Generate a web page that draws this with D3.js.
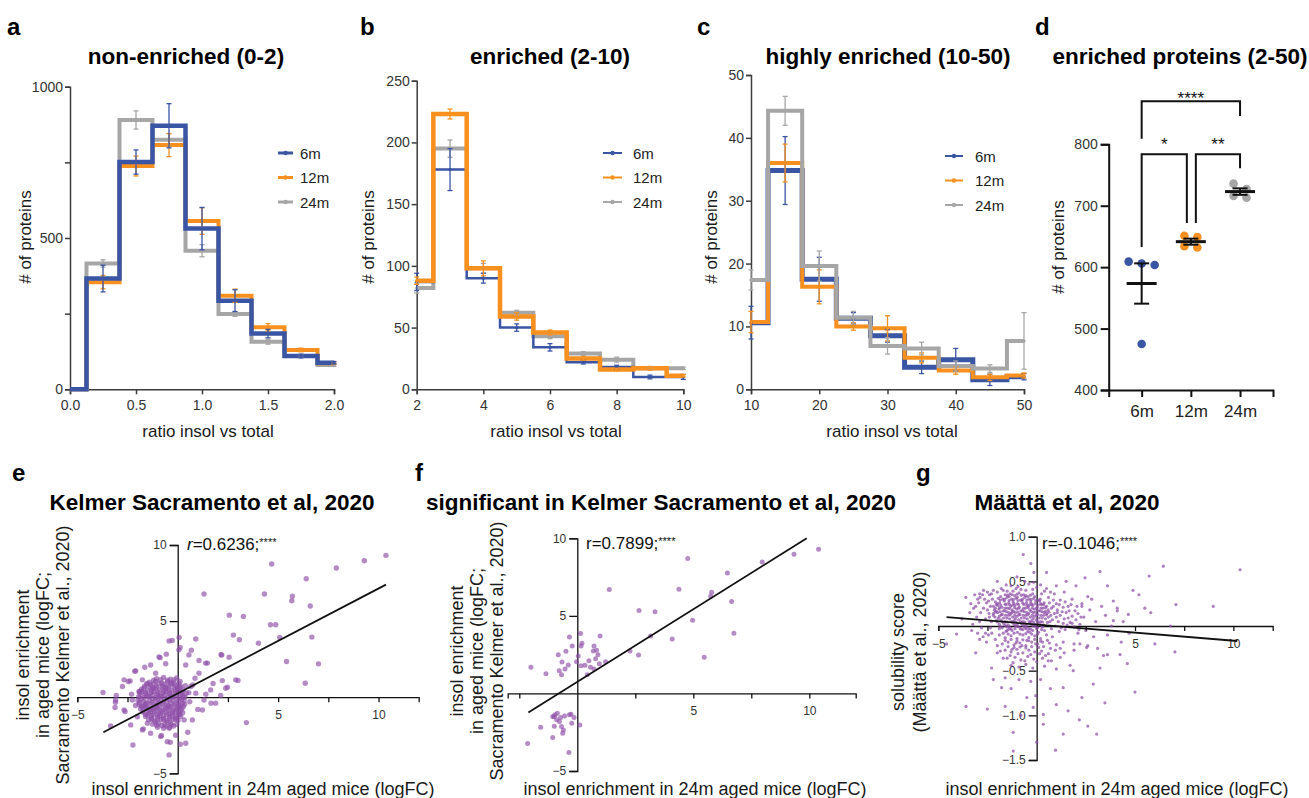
<!DOCTYPE html>
<html>
<head>
<meta charset="utf-8">
<title>Protein insolubility with age</title>
<script src="https://cdn.jsdelivr.net/npm/d3@7/dist/d3.min.js"></script>
<style>
  html, body { margin: 0; padding: 0; background: #fff; }
  svg { display: block; }
</style>
</head>
<body>
<svg id="figure" width="1309" height="798"></svg>
<script>
const FONT = "Arial, 'Liberation Sans', Helvetica, sans-serif";

// ---------- age groups shared by panels a-d ----------
const ageGroups = ["6m", "12m", "24m"];
const ageColors = ["#3a55a4", "#f7901e", "#a6a6a6"];

// ---------- a: non-enriched (ratio 0-2) ----------
const binsA = [0, 0.25, 0.5, 0.75, 1.0, 1.25, 1.5, 1.75, 2.0];
const countsA6  = [0, 366, 751, 871, 531, 293, 184, 110, 88];
const countsA12 = [0, 354, 738, 807, 556, 309, 205, 130, 86];
const countsA24 = [0, 416, 890, 825, 458, 249, 157, 110, 80];
const semA6  = [0, 44, 40, 73, 70, 36, 14, 6, 4];
const semA12 = [0, 22, 33, 38, 44, 22, 12, 6, 4];
const semA24 = [0, 12, 30, 20, 20, 8, 8, 5, 4];

// ---------- b: enriched (ratio 2-10) ----------
const binsB = [2, 3, 4, 5, 6, 7, 8, 9, 10];
const countsB6  = [87, 178, 90, 50, 34, 22, 18, 10, 10];
const countsB12 = [88, 223, 98, 59, 46, 25, 16, 17, 11];
const countsB24 = [82, 195, 98, 62, 43, 29, 24, 17, 17];
const semB6  = [7, 17, 4, 3, 3, 1.5, 1.5, 1.5, 2];
const semB12 = [3, 4, 6, 3, 2, 1.5, 1, 1.5, 1];
const semB24 = [4, 7, 4, 2, 2, 1.5, 2, 1, 1];

// ---------- c: highly enriched (ratio 10-50) ----------
const binsC = [10, 15, 20, 25, 30, 35, 40, 45, 50];
const countsC6  = [10.6, 34.8, 17.5, 11.3, 8.5, 3.5, 4.7, 1.5, 2.0];
const countsC12 = [10.7, 36.0, 16.3, 10.0, 9.7, 5.0, 3.0, 1.9, 2.2];
const countsC24 = [17.4, 44.3, 19.6, 11.4, 6.9, 6.5, 3.7, 3.3, 7.7];
const semC6  = [2.6, 5.4, 3.5, 0.9, 1.0, 1.0, 1.8, 0.9, 0.5];
const semC12 = [1.7, 3.0, 2.7, 0.6, 2.0, 0.8, 0.6, 0.5, 0.4];
const semC24 = [1.6, 2.3, 2.4, 1.0, 1.3, 1.0, 0.8, 0.6, 4.5];

// ---------- d: enriched proteins (2-50) per animal ----------
const enriched6  = [609, 603.5, 606, 475];
const enriched12 = [649, 634, 651, 632];
const enriched24 = [736, 727, 716, 713];
const sigBrackets = [
  { from: "6m",  to: "24m", top: 870, leftEnd: 809, rightEnd: 846, label: "****" },
  { from: "6m",  to: "12m", top: 784, leftEnd: 633, rightEnd: 672, label: "*" },
  { from: "12m", to: "24m", top: 784, leftEnd: 672, rightEnd: 761, label: "**" }
];

// ---------- e: all proteins vs Kelmer Sacramento et al. 2020 (logFC, logFC) ----------
const kelmerSpread = [
  [10.37,9.32],[9.29,8.97],[7.9,8.49],[4.68,8.75],[6.4,7.78],[1.31,6.78],[4.32,6.78],[5.71,6.64],[5.68,6.34],
  [6.6,5.99],[2.57,5.39],[3.27,5.31],[4.62,4.76],[4.88,4.76],[2.77,4.08],[3.07,3.77],[5.08,3.93],[6.68,3.95],
  [4.02,3.55],[2.16,2.79],[2.56,2.63],[5.42,2.35],[7.01,2.19],[3.0,1.1],[6.35,0.92],[2.48,0.66],[1.76,0.9],
  [2.14,0.11],[3.42,-1.67],[2.89,1.14],[2.39,0.59],[2.22,1.09],[2.19,2.78],[1.89,-0.39],[1.64,0.48],
  [0.9,3.82],[0.07,3.93],[-0.27,3.73],[-0.43,3.7],[0.12,3.27],[0.68,3.09],[0.06,3.11],[-0.57,2.83],[0.56,2.78],
  [-0.88,2.6],[1.48,2.24],[1.06,2.41],[1.39,2.24],[0.4,2.12],[-1.35,2.12],[-1.64,1.97],[-2.09,1.73],[-2.14,1.71],
  [-0.93,2.65],[-0.6,2.2],[1.06,1.58],[0.86,1.25],[-1.1,1.58],[-1.76,1.14],[-2.67,1.14],[-2.37,1.07],[-2.46,1.03],
  [-2.75,0.7],[-1.93,0.37],[0.65,0.7],[0.9,0.26],[1.31,-0.18],[1.23,-0.84],[0.73,-1.49],[1.0,-0.8],[1.66,-0.39],
  [1.4,0.2],[0.75,0.8],[-3.72,0.31],[-3.06,0.11],[-3.09,-0.18],[-3.1,-0.33],[-3.12,-0.68],[-2.67,-0.84],
  [-2.26,-0.18],[-2.62,-0.94],[-2.01,-1.28],[-1.51,-1.71],[-2.34,-1.82],[-3.34,-1.89],[-1.76,-2.15],[-1.35,-2.37],
  [-0.43,-2.04],[-0.52,-2.92],[0.4,-3.03],[-0.85,-2.59],[-2.23,-3.14],[-1.71,-2.08],[-0.43,-3.79],[-0.37,-2.96],
  [0.13,-3.09],[-0.81,-2.52],[0.32,-1.49],[0.5,-2.3],[-0.1,-2.5],[-2.1,-0.55],[-2.3,0.2],[0.6,-0.3],[0.55,0.3]
];
const kelmerCore = [
  [-1.05,1.22],[-0.7,1.3],[-0.35,1.18],[-0.05,1.27],
  [-1.4,0.98],[-1.1,1.05],[-0.8,0.95],[-0.5,1.02],[-0.2,0.97],[0.12,1.04],
  [-1.65,0.72],[-1.35,0.8],[-1.05,0.7],[-0.75,0.78],[-0.45,0.71],[-0.15,0.79],[0.15,0.73],[0.38,0.76],
  [-1.8,0.52],[-1.5,0.46],[-1.2,0.55],[-0.9,0.48],[-0.6,0.53],[-0.3,0.45],[0.0,0.54],[0.28,0.47],
  [-1.9,0.27],[-1.62,0.22],[-1.32,0.3],[-1.02,0.2],[-0.72,0.28],[-0.42,0.23],[-0.12,0.29],[0.18,0.21],[0.42,0.26],
  [-1.95,0.02],[-1.68,-0.04],[-1.4,0.05],[-1.1,-0.03],[-0.8,0.04],[-0.5,-0.02],[-0.2,0.03],[0.1,-0.05],[0.36,0.01],
  [-1.98,-0.22],[-1.7,-0.29],[-1.42,-0.2],[-1.12,-0.27],[-0.84,-0.23],[-0.55,-0.3],[-0.25,-0.21],[0.05,-0.28],[0.32,-0.24],
  [-1.92,-0.48],[-1.64,-0.54],[-1.35,-0.46],[-1.05,-0.53],[-0.76,-0.47],[-0.46,-0.55],[-0.16,-0.49],[0.12,-0.52],[0.35,-0.47],
  [-1.85,-0.77],[-1.56,-0.72],[-1.27,-0.8],[-0.98,-0.73],[-0.68,-0.79],[-0.38,-0.71],[-0.08,-0.78],[0.2,-0.74],
  [-1.75,-0.98],[-1.45,-1.04],[-1.16,-0.97],[-0.87,-1.05],[-0.57,-0.99],[-0.27,-1.03],[0.03,-0.96],[0.25,-1.02],
  [-1.6,-1.27],[-1.3,-1.22],[-1.0,-1.29],[-0.7,-1.23],[-0.4,-1.28],[-0.1,-1.21],[0.15,-1.26],
  [-1.45,-1.48],[-1.15,-1.54],[-0.85,-1.47],[-0.55,-1.53],[-0.25,-1.46],[0.02,-1.52],
  [-1.25,-1.77],[-0.95,-1.72],[-0.65,-1.79],[-0.35,-1.74],[-0.05,-1.78],
  [-1.0,-1.98],[-0.7,-2.04],[-0.4,-1.97],
  [-1.55,0.87],[-1.25,0.62],[-0.95,0.88],[-0.62,0.64],[-0.32,0.88],[-0.02,0.61],
  [-1.78,0.37],[-1.48,0.12],[-1.18,0.38],[-0.88,0.13],[-0.58,0.36],[-0.28,0.1],[0.02,0.39],[0.25,0.1],
  [-1.82,-0.12],[-1.55,-0.38],[-1.25,-0.11],[-0.95,-0.39],[-0.65,-0.1],[-0.35,-0.37],[-0.05,-0.12],[0.22,-0.39],
  [-1.75,-0.63],[-1.42,-0.88],[-1.12,-0.62],[-0.82,-0.9],[-0.52,-0.61],[-0.22,-0.87],[0.08,-0.63],
  [-1.6,-1.13],[-1.3,-1.38],[-1.0,-1.12],[-0.7,-1.4],[-0.4,-1.1],[-0.1,-1.37],[0.1,-1.12],
  [-1.1,-1.66],[-0.8,-1.86],[-0.5,-1.64],[-0.2,-1.9],
  [-1.2,1.12],[-0.85,1.15],[-0.5,1.12],[-0.18,1.14],
  [-1.5,0.9],[-1.2,0.86],[-0.65,0.86],[-0.35,0.93],[0.05,0.88],
  [-1.68,0.6],[-1.38,0.66],[-1.08,0.6],[-0.78,0.66],[-0.48,0.6],[-0.18,0.66],[0.12,0.6],
  [-1.88,0.4],[-1.6,0.32],[-1.3,0.42],[-0.98,0.33],[-0.7,0.42],[-0.4,0.34],[-0.1,0.42],[0.2,0.33],
  [-1.85,0.12],[-1.55,0.06],[-1.25,0.15],[-0.95,0.08],[-0.65,0.15],[-0.35,0.07],[-0.05,0.15],[0.25,-0.02],
  [-1.9,-0.35],[-1.6,-0.42],[-1.28,-0.35],[-0.98,-0.12],[-0.7,-0.38],[-0.4,-0.15],[-0.1,-0.4],[0.2,-0.15],
  [-1.8,-0.62],[-1.5,-0.66],[-1.2,-0.7],[-0.9,-0.62],[-0.6,-0.68],[-0.3,-0.6],[0.0,-0.66],[0.28,-0.62],
  [-1.7,-0.88],[-1.35,-0.94],[-1.05,-0.86],[-0.75,-0.93],[-0.45,-0.87],[-0.15,-0.92],[0.15,-0.88],
  [-1.5,-1.18],[-1.2,-1.15],[-0.88,-1.2],[-0.55,-1.16],[-0.25,-1.18],[0.05,-1.15],
  [-1.3,-1.45],[-1.0,-1.42],[-0.7,-1.5],[-0.4,-1.43],[-0.1,-1.48],
  [-1.05,-1.85],[-0.6,-1.9],[-0.3,-1.8]
];
const kelmerFit = { slope: 0.689, intercept: 0.25, from: -3.7, to: 10.37 };

// ---------- f: proteins significant in Kelmer Sacramento et al. 2020 ----------
const kelmerSignificant = [
  [10.4,9.29],[9.34,8.97],[7.97,8.47],[4.76,8.69],[6.47,7.76],[1.38,6.7],[4.38,6.72],[5.79,6.53],[5.75,6.27],
  [6.65,5.93],[2.66,5.34],[3.35,5.26],[4.97,4.72],[6.75,3.88],[4.09,3.51],[3.16,3.71],[5.47,2.33],[2.27,2.74],
  [2.64,2.48],[1.22,2.05],[0.98,3.71],[0.14,3.86],[0.2,3.23],[0.16,3.05],[-0.34,3.64],[-0.22,3.06],[-0.82,2.5],
  [-0.49,2.72],[0.72,3.06],[0.83,2.78],[0.69,2.74],[0.89,2.5],[0.04,2.41],[0.5,2.11],[0.79,2.24],[-0.03,2.05],
  [0.16,1.79],[0.33,1.81],[0.57,1.68],[0.95,1.92],[0.43,1.21],[0.72,1.57],[-0.39,1.83],[-0.53,1.57],[-0.66,2.03],
  [-0.78,1.47],[-0.68,1.21],[-1.35,1.27],[-2.0,1.68],
  [-0.96,-1.38],[-0.86,-1.27],[-1.06,-1.49],[-0.72,-1.55],[-0.34,-1.38],[-0.27,-1.34],[-0.14,-1.55],[0.11,-2.03],
  [-0.24,-1.92],[-0.89,-1.7],[-0.68,-2.13],[-0.6,-2.35],[-0.63,-2.56],[-0.99,-2.11],[-1.58,-2.18],[-1.06,-2.84],
  [-2.14,-3.23],[-0.36,-3.81],[-0.77,-1.81],[-1.0,-1.5],[-0.55,-1.45]
];
const significantFit = { slope: 0.936, intercept: 0.745, from: -2.11, to: 9.89 };

// ---------- g: insol enrichment vs solubility score (Määttä et al. 2020) ----------
const maattaCore = [
  [-1.6,0.35],[-1.35,0.36],[-1.12,0.34],[-0.9,0.37],[-0.66,0.35],[-0.45,0.33],[-0.2,0.36],
  [-1.95,0.31],[-1.72,0.3],[-1.5,0.32],[-1.28,0.3],[-1.05,0.31],[-0.82,0.29],[-0.6,0.32],[-0.38,0.3],[-0.15,0.31],[0.08,0.29],
  [-2.1,0.27],[-1.88,0.26],[-1.65,0.28],[-1.42,0.26],[-1.2,0.27],[-0.98,0.25],[-0.75,0.28],[-0.52,0.26],[-0.3,0.27],[-0.08,0.25],[0.15,0.28],[0.38,0.26],
  [-2.2,0.22],[-1.98,0.23],[-1.76,0.21],[-1.55,0.24],[-1.32,0.22],[-1.1,0.23],[-0.88,0.21],[-0.65,0.24],[-0.42,0.22],[-0.2,0.23],[0.02,0.21],[0.25,0.24],[0.5,0.22],
  [-2.15,0.18],[-1.92,0.19],[-1.7,0.17],[-1.48,0.2],[-1.25,0.18],[-1.02,0.19],[-0.8,0.17],[-0.58,0.2],[-0.35,0.18],[-0.12,0.19],[0.1,0.17],[0.32,0.2],[0.58,0.18],
  [-2.2,0.14],[-1.98,0.15],[-1.75,0.13],[-1.52,0.16],[-1.3,0.14],[-1.08,0.15],[-0.85,0.13],[-0.62,0.16],[-0.4,0.14],[-0.18,0.15],[0.05,0.13],[0.28,0.16],[0.52,0.14],
  [-2.12,0.1],[-1.9,0.11],[-1.68,0.09],[-1.45,0.12],[-1.22,0.1],[-1.0,0.11],[-0.78,0.09],[-0.55,0.12],[-0.32,0.1],[-0.1,0.11],[0.12,0.09],[0.36,0.12],[0.6,0.1],
  [-2.05,0.06],[-1.82,0.07],[-1.6,0.05],[-1.38,0.08],[-1.15,0.06],[-0.92,0.07],[-0.7,0.05],[-0.48,0.08],[-0.25,0.06],[-0.02,0.07],[0.2,0.05],[0.45,0.08],
  [-1.9,0.02],[-1.68,0.03],[-1.45,0.01],[-1.22,0.04],[-1.0,0.02],[-0.78,0.03],[-0.55,0.01],[-0.32,0.04],[-0.1,0.02],[0.12,0.03],[0.35,0.01],
  [-1.75,-0.02],[-1.52,-0.01],[-1.3,-0.03],[-1.08,0.0],[-0.85,-0.02],[-0.62,-0.01],[-0.4,-0.03],[-0.18,0.0],[0.05,-0.02],
  [-1.55,-0.06],[-1.25,-0.05],[-0.98,-0.07],[-0.7,-0.04],[-0.45,-0.06],[-0.2,-0.05],[0.1,-0.07],
  [-1.83,0.33],[-1.4,0.33],[-0.98,0.32],[-0.55,0.34],[-0.1,0.33],
  [-2.0,0.25],[-1.6,0.245],[-1.15,0.25],[-0.7,0.255],[-0.25,0.245],[0.2,0.25],
  [-2.05,0.165],[-1.62,0.17],[-1.18,0.165],[-0.72,0.17],[-0.28,0.165],[0.18,0.17],[0.45,0.165],
  [-1.95,0.085],[-1.52,0.09],[-1.08,0.085],[-0.62,0.09],[-0.18,0.085],[0.28,0.09],
  [-1.6,0.01],[-1.15,0.015],[-0.7,0.01],[-0.25,0.015],[0.22,0.01],
  [-1.48,0.345],[-1.25,0.35],[-1.0,0.355],[-0.78,0.345],[-0.32,0.345],
  [-1.85,0.29],[-1.62,0.3],[-1.4,0.285],[-1.18,0.295],[-0.95,0.285],[-0.72,0.3],[-0.5,0.29],[-0.28,0.295],[-0.05,0.285],[0.18,0.3],
  [-2.05,0.24],[-1.82,0.235],[-1.38,0.24],[-1.22,0.235],[-0.92,0.24],[-0.5,0.235],[-0.35,0.24],[0.08,0.235],[0.35,0.24],
  [-2.1,0.2],[-1.88,0.205],[-1.6,0.2],[-1.38,0.195],[-1.12,0.205],[-0.92,0.2],[-0.68,0.195],[-0.45,0.205],[-0.22,0.2],[0.0,0.195],[0.22,0.2],[0.45,0.205],
  [-2.1,0.155],[-1.85,0.16],[-1.42,0.15],[-1.25,0.155],[-0.95,0.155],[-0.5,0.15],[-0.08,0.155],[0.38,0.15],[0.62,0.155],
  [-2.2,0.12],[-1.8,0.125],[-1.58,0.12],[-1.35,0.125],[-1.12,0.12],[-0.9,0.125],[-0.68,0.12],[-0.45,0.125],[-0.22,0.12],[0.0,0.125],[0.22,0.12],[0.5,0.125],
  [-2.0,0.045],[-1.75,0.05],[-1.5,0.045],[-1.28,0.05],[-1.05,0.045],[-0.82,0.05],[-0.6,0.045],[-0.38,0.05],[-0.15,0.045],[0.05,0.05],[0.3,0.045],[0.55,0.04],
  [-1.85,-0.005],[-1.4,-0.01],[-0.95,-0.005],[-0.5,-0.01],[-0.05,-0.005],[0.3,-0.01],
  [-1.4,-0.035],[-1.1,-0.03],[-0.8,-0.035],[-0.55,-0.03],[-0.3,-0.035],[0.0,-0.03],[0.25,-0.04],
  [-1.7,-0.08],[-1.45,-0.09],[-1.15,-0.08],[-0.85,-0.09],[-0.55,-0.085],[-0.25,-0.09],[0.05,-0.09],
  [-1.6,-0.16],[-1.3,-0.15],[-1.0,-0.17],[-0.7,-0.155],[-0.4,-0.165],[-0.1,-0.15],[0.2,-0.17],
  [-1.45,-0.23],[-1.15,-0.24],[-0.85,-0.235],[-0.55,-0.245],[-0.25,-0.23],[0.1,-0.24]
];
const maattaSpread = [
  [0.75,0.2],[1.05,0.18],[1.35,0.21],[1.65,0.17],[0.9,0.14],[1.2,0.12],[1.5,0.15],[1.8,0.11],[2.1,0.14],[0.8,0.07],
  [1.1,0.05],[1.4,0.08],[1.7,0.04],[2.0,0.07],[0.95,0.0],[1.25,-0.02],[1.55,0.01],[1.9,-0.01],[0.72,0.12],[1.6,0.22],
  [2.2,0.02],[1.0,0.25],
  [0.65,0.26],[0.85,0.29],[1.15,0.24],[1.45,0.27],[1.75,0.24],[2.05,0.22],[0.68,0.05],[0.85,0.22],[1.0,0.1],[1.3,0.16],
  [1.6,0.09],[1.95,0.17],[2.25,0.1],[0.75,-0.03],[1.15,-0.06],[1.45,-0.04],[1.8,0.03],[2.15,-0.04],[1.35,0.03],[1.05,0.15],
  [-1.9,-0.1],[-1.6,-0.13],[-1.3,-0.11],[-1.0,-0.14],[-0.7,-0.1],[-0.4,-0.13],[-0.1,-0.11],[0.2,-0.14],[0.5,-0.1],[0.8,-0.12],
  [-1.75,-0.2],[-1.45,-0.18],[-1.15,-0.21],[-0.85,-0.19],[-0.55,-0.22],[-0.25,-0.18],[0.05,-0.2],[0.35,-0.23],[0.65,-0.19],[1.0,-0.21],[1.35,-0.18],
  [-1.6,-0.27],[-1.3,-0.29],[-1.0,-0.26],[-0.7,-0.3],[-0.4,-0.27],[-0.1,-0.29],[0.25,-0.28],[0.6,-0.31],[0.95,-0.27],[1.4,-0.3],
  [-1.5,-0.36],[-1.1,-0.35],[-0.8,-0.38],[-0.45,-0.34],[-0.15,-0.37],[0.3,-0.36],[0.75,-0.39],[1.2,-0.35],
  [-1.3,-0.44],[-0.9,-0.46],[-0.55,-0.43],[-0.2,-0.47],[0.4,-0.45],[1.0,-0.48],[1.7,-0.44],
  [-2.1,-0.15],[-1.85,-0.28],[-1.7,-0.36],[-1.35,-0.33],[-1.2,-0.41],[-0.95,-0.31],[-0.6,-0.39],[-0.3,-0.32],[0.0,-0.4],
  [0.15,-0.31],[0.45,-0.33],[0.7,-0.25],[-2.0,-0.22],[-1.5,-0.05],[-0.35,-0.07],[0.4,-0.05],[0.55,-0.16],[-0.05,-0.2],
  [-0.75,-0.22],[-1.05,-0.19],[-1.25,-0.26],[-0.5,-0.16],[0.3,-0.18],[-1.9,-0.03],
  [-3.4,0.15],[-3.0,0.3],[-2.7,0.2],[-2.5,0.38],[-2.9,0.05],[-3.3,-0.05],[-2.6,-0.08],[-2.4,0.1],[-2.75,0.35],[-3.1,0.22],
  [-2.45,0.28],[-2.35,-0.02],[-2.9,-0.15],[-3.6,0.32],[-2.2,0.4],[-2.55,-0.18],[-3.8,0.08],
  [-3.2,0.2],[-3.05,0.1],[-2.95,0.26],[-2.85,0.15],[-2.8,-0.02],[-2.65,0.3],[-2.6,0.08],[-2.5,0.18],[-2.45,-0.1],[-2.4,0.35],
  [-2.35,0.22],[-2.3,0.05],[-2.25,0.3],[-2.28,-0.08],[-3.15,0.35],[-2.7,0.4],[-3.25,0.02],[-2.55,0.26],[-2.42,0.14],[-2.9,0.36],
  [-2.72,-0.12],[-3.0,-0.08],
  [-1.8,0.42],[-1.3,0.45],[-0.8,0.41],[-0.4,0.47],[0.0,0.43],[0.4,0.39],[0.9,0.36],[1.4,0.38],[-1.5,0.39],[-0.6,0.5],
  [0.2,0.46],[-1.05,0.42],[1.8,0.3],[2.3,0.25],[2.6,0.33],[0.6,0.32],[1.2,0.29],
  [-2.3,0.36],[-2.0,0.38],[-1.7,0.4],[-1.2,0.39],[-0.95,0.44],[-0.55,0.4],[-0.2,0.41],[0.25,0.36],[0.5,0.42],[-1.55,0.46],
  [-0.15,0.49],[0.7,0.38],
  [2.4,0.1],[2.7,0.18],[3.0,0.05],[3.3,0.22],[2.5,-0.05],[2.9,-0.12],[3.5,0.12],[3.8,0.0],[4.1,0.17],[2.2,-0.2],
  [3.1,-0.25],[3.6,-0.1],[4.4,0.05],[4.7,-0.08],[2.8,0.3],[3.9,0.28],[2.3,0.22],[2.6,-0.22],[4.3,-0.18],[1.9,-0.27],
  [2.1,-0.08],[3.4,-0.33],
  [-0.68,0.8],[-0.14,0.6],[2.46,0.54],[3.22,0.61],[6.44,0.67],[10.34,0.63],[5.72,0.56],[8.98,0.22],[7.08,0.24],[5.5,0.2],
  [5.8,0.15],[4.66,0.13],[4.1,0.2],[3.9,0.06],[6.01,-0.2],[7.03,-0.29],[4.61,-0.42],[5.0,-0.74],[4.24,-0.32],[3.6,-0.32],
  [3.22,-0.47],[2.88,-0.65],[3.47,-0.86],[2.17,-1.05],[1.35,-1.21],[0.96,-1.39],[3.05,-1.21],[2.6,-1.12],[-1.19,-1.4],
  [-1.19,-1.19],[-3.59,-0.9],[-2.51,-0.93],[-1.78,-0.69],[-1.6,-0.58],[-2.29,-0.47],[-3.1,-0.3],[-4.58,-0.2],[-4.07,-0.09],
  [-2.88,0.32],[-3.35,0.25],[0.34,-0.99],[0.34,-1.1],[-0.17,-0.91],[-0.05,-0.78],[-0.5,-0.8],[0.2,-0.6],[1.35,-0.69],
  [1.86,-0.5],[0.59,-0.39],[2.54,-0.24],[1.9,-0.2],[1.2,-0.25],[-0.9,-0.6],[-1.3,-0.7],[-0.3,-0.62],[0.7,-0.7],[1.0,-0.88],
  [-0.8,-1.0],[-1.6,-0.9],[0.0,-1.3],[2.3,-0.8],[1.6,-0.95],[-2.0,-0.3],[-2.2,-0.6],[-1.0,0.55],[0.5,0.6],[1.5,0.5],
  [-2.0,0.5],[-0.3,0.7],[5.2,0.35],[6.8,0.0],[4.9,0.4],[3.6,0.45],[2.0,0.45],[1.0,0.45]
];
const maattaFit = { slope: -0.0181, intercept: 0.017, from: -4.58, to: 10.2 };

// ================= drawing =================
const svg = d3.select("#figure");

function panelLetter(ch, x, y) {
  svg.append("text").attr("x", x).attr("y", y).text(ch)
    .attr("font-family", FONT).attr("font-size", 24).attr("font-weight", "bold").attr("fill", "#000");
}
function addText(txt, x, y, size, opts = {}) {
  const t = svg.append("text").attr("x", x).attr("y", y).text(txt)
    .attr("font-family", FONT).attr("font-size", size)
    .attr("font-weight", opts.bold ? "bold" : "normal")
    .attr("text-anchor", opts.anchor || "middle")
    .attr("fill", opts.fill || "#1a1a1a");
  if (opts.rotate) t.attr("transform", `rotate(-90,${x},${y})`);
  return t;
}
function styleAxis(g, color, width, size) {
  g.attr("font-family", FONT).attr("font-size", size);
  g.select("path.domain").attr("stroke", color).attr("stroke-width", width);
  g.selectAll(".tick line").attr("stroke", color).attr("stroke-width", width);
  g.selectAll(".tick text").attr("fill", "#333");
}

// ---------- histogram panels a-c ----------
const histPanels = [
  { letter: "a", letterX: 7, title: "non-enriched (0-2)", titleX: 186,
    left: 70, right: 334, top: 86.7, bottom: 389.3, xDomain: [0, 2], yDomain: [0, 1000], bins: binsA,
    xTicks: [0, 0.5, 1, 1.5, 2], xFmt: d3.format(".1f"),
    yTicks: [0, 250, 500, 750, 1000], yFmt: v => (v % 500 === 0 ? v : ""),
    counts: [countsA6, countsA12, countsA24], sems: [semA6, semA12, semA24],
    widths: [4.5, 4, 4], order: [2, 1, 0],
    yLabelX: 31, yLabelY: 237, xLabelX: 208, legend: { x: 278, y: 153, len: 15, text: 300, lw: 3 } },
  { letter: "b", letterX: 360, title: "enriched (2-10)", titleX: 550,
    left: 416.7, right: 683.3, top: 80.7, bottom: 389.3, xDomain: [2, 10], yDomain: [0, 250], bins: binsB,
    xTicks: [2, 4, 6, 8, 10], xFmt: d3.format("d"),
    yTicks: [0, 50, 100, 150, 200, 250], yFmt: d3.format("d"),
    counts: [countsB6, countsB12, countsB24], sems: [semB6, semB12, semB24],
    widths: [2.5, 4.5, 4], order: [2, 0, 1],
    yLabelX: 374, yLabelY: 237, xLabelX: 556, legend: { x: 603, y: 153, len: 19, text: 633, lw: 2 } },
  { letter: "c", letterX: 697, title: "highly enriched (10-50)", titleX: 888,
    left: 751, right: 1024, top: 75, bottom: 389.3, xDomain: [10, 50], yDomain: [0, 50], bins: binsC,
    xTicks: [10, 20, 30, 40, 50], xFmt: d3.format("d"),
    yTicks: [0, 10, 20, 30, 40, 50], yFmt: d3.format("d"),
    counts: [countsC6, countsC12, countsC24], sems: [semC6, semC12, semC24],
    widths: [5, 4, 4], order: [0, 1, 2],
    yLabelX: 717, yLabelY: 237, xLabelX: 892, legend: { x: 945, y: 156, len: 18, text: 975, lw: 2 } }
];

histPanels.forEach(p => {
  const x = d3.scaleLinear().domain(p.xDomain).range([p.left, p.right]);
  const y = d3.scaleLinear().domain(p.yDomain).range([p.bottom, p.top]);
  const g = svg.append("g");

  const ax = g.append("g").attr("transform", `translate(0,${p.bottom})`)
    .call(d3.axisBottom(x).tickValues(p.xTicks).tickFormat(p.xFmt).tickSizeOuter(0).tickSize(5).tickPadding(6));
  styleAxis(ax, "#3c3c3c", 1.5, 14);
  const ay = g.append("g").attr("transform", `translate(${p.left},0)`)
    .call(d3.axisLeft(y).tickValues(p.yTicks).tickFormat(p.yFmt).tickSizeOuter(0).tickSize(5).tickPadding(2));
  styleAxis(ay, "#3c3c3c", 1.5, 14);

  const line = d3.line().x((d, i) => x(p.bins[i])).y(d => y(d)).curve(d3.curveStep);
  p.order.forEach(k => {
    g.append("path").datum(p.counts[k]).attr("d", line)
      .attr("fill", "none").attr("stroke", ageColors[k]).attr("stroke-width", p.widths[k])
      .attr("stroke-linejoin", "miter");
  });
  // error bars (mean ± SEM) on top of the step lines
  p.order.forEach(k => {
    const eg = g.append("g").attr("stroke", ageColors[k]).attr("stroke-width", 1.3);
    p.counts[k].forEach((c, i) => {
      if (c === 0) return;
      const s = p.sems[k][i], cx = x(p.bins[i]);
      eg.append("line").attr("x1", cx).attr("x2", cx).attr("y1", y(c - s)).attr("y2", y(c + s));
      [c - s, c + s].forEach(v => eg.append("line").attr("x1", cx - 2.5).attr("x2", cx + 2.5).attr("y1", y(v)).attr("y2", y(v)));
      eg.append("circle").attr("cx", cx).attr("cy", y(c)).attr("r", 1.7).attr("fill", ageColors[k]).attr("stroke", "none");
    });
  });

  // legend
  ageGroups.forEach((name, k) => {
    const ly = p.legend.y + k * 24.5;
    g.append("line").attr("x1", p.legend.x).attr("x2", p.legend.x + p.legend.len).attr("y1", ly).attr("y2", ly)
      .attr("stroke", ageColors[k]).attr("stroke-width", p.legend.lw);
    g.append("circle").attr("cx", p.legend.x + p.legend.len / 2).attr("cy", ly).attr("r", 2.2).attr("fill", ageColors[k]);
    addText(name, p.legend.text, ly + 5.5, 15, { anchor: "start", fill: "#222" });
  });

  panelLetter(p.letter, p.letterX, 35);
  addText(p.title, p.titleX, 64, 22.5, { bold: true, fill: "#000" });
  addText("# of proteins", p.yLabelX, p.yLabelY, 17, { rotate: true });
  addText("ratio insol vs total", p.xLabelX, 437, 17);
});

// ---------- panel d: enriched proteins per animal ----------
(function () {
  const left = 1108.7, right = 1273, top = 144.3, bottom = 390;
  const x = d3.scalePoint().domain(ageGroups).range([left, right]).padding(0.67);
  const y = d3.scaleLinear().domain([400, 800]).range([bottom, top]);
  const g = svg.append("g");

  const ay = g.append("g").attr("transform", `translate(${left},0)`)
    .call(d3.axisLeft(y).tickValues([400, 500, 600, 700, 800]).tickSizeOuter(0).tickSize(8).tickPadding(3));
  styleAxis(ay, "#111", 2, 14);
  const ax = g.append("g").attr("transform", `translate(0,${bottom})`)
    .call(d3.axisBottom(x).tickSizeOuter(0).tickSize(7).tickPadding(8));
  styleAxis(ax, "#111", 2, 17);
  ax.selectAll(".tick text").attr("fill", "#222");

  const groups = [enriched6, enriched12, enriched24];
  const r = 4.3, spacing = 13;
  groups.forEach((vals, k) => {
    const cx = x(ageGroups[k]);
    // stack near-equal values into centred rows
    const sorted = vals.slice().sort((a, b) => b - a);
    const rows = [];
    sorted.forEach(v => {
      const last = rows[rows.length - 1];
      if (last && Math.abs(y(last[0]) - y(v)) < 2 * r) last.push(v); else rows.push([v]);
    });
    rows.forEach(row => row.forEach((v, j) => {
      g.append("circle").attr("cx", cx + (j - (row.length - 1) / 2) * spacing).attr("cy", y(v))
        .attr("r", r).attr("fill", ageColors[k]);
    }));
    const mean = d3.mean(vals), sem = d3.deviation(vals) / Math.sqrt(vals.length);
    g.append("line").attr("x1", cx - 15).attr("x2", cx + 15).attr("y1", y(mean)).attr("y2", y(mean))
      .attr("stroke", "#111").attr("stroke-width", 3);
    const eg = g.append("g").attr("stroke", "#111").attr("stroke-width", 2);
    eg.append("line").attr("x1", cx).attr("x2", cx).attr("y1", y(mean - sem)).attr("y2", y(mean + sem));
    [mean - sem, mean + sem].forEach(v => eg.append("line").attr("x1", cx - 7.5).attr("x2", cx + 7.5).attr("y1", y(v)).attr("y2", y(v)));
  });

  // significance brackets
  const inner = { left: 5, right: -4 };
  sigBrackets.forEach(b => {
    const shared = name => name === "12m";
    const x1 = x(b.from) + (shared(b.from) ? inner.left : 0);
    const x2 = x(b.to) + (shared(b.to) ? inner.right : 0);
    g.append("path")
      .attr("d", `M${x1},${y(b.leftEnd)}V${y(b.top)}H${x2}V${y(b.rightEnd)}`)
      .attr("fill", "none").attr("stroke", "#111").attr("stroke-width", 2);
    addText(b.label, (x1 + x2) / 2, y(b.top) + (b.label.length > 2 ? 3 : -4), 17, { fill: "#111" });
  });

  panelLetter("d", 1035, 35);
  addText("enriched proteins (2-50)", 1180, 64, 22.5, { bold: true, fill: "#000" });
  addText("# of proteins", 1064, 247, 17, { rotate: true });
})();

// ---------- scatter panels e-g ----------
const scatterPanels = [
  { letter: "e", letterX: 12, title: "Kelmer Sacramento et al, 2020", titleX: 212,
    xDomain: [-5, 12], xRange: [77.3, 418.7], yDomain: [-5, 10], yRange: [773.3, 545],
    xTicks: [-5, -2.5, 2.5, 5, 7.5, 10], xLabeled: [-5, 5, 10], yTicks: [-5, 5, 10], yFmt: d3.format("d"),
    layers: [kelmerSpread, kelmerCore], dotR: 2.7, opacity: 0.66, fit: kelmerFit,
    rParts: [["r", true], ["=0.6236;", false]], rX: 187, rY: 550,
    yLabel: ["insol enrichment", "in aged mice (logFC;", "Sacramento Kelmer et al., 2020)"], yLabelX: [29, 49, 69], yLabelY: 655,
    xLabelX: 263 },
  { letter: "f", letterX: 415, title: "significant in Kelmer Sacramento et al, 2020", titleX: 661,
    xDomain: [-3, 12], xRange: [507.7, 855.7], yDomain: [-5, 10], yRange: [771, 538.3],
    xTicks: [-2.5, 2.5, 5, 7.5, 10], xLabeled: [5, 10], yTicks: [-5, 5, 10], yFmt: d3.format("d"),
    layers: [kelmerSignificant], dotR: 2.5, opacity: 0.66, fit: significantFit,
    rParts: [["r=0.7899;", false]], rX: 586, rY: 549,
    yLabel: ["insol enrichment", "in aged mice (logFC;", "Sacramento Kelmer et al., 2020)"], yLabelX: [463, 483, 503], yLabelY: 651,
    xLabelX: 695 },
  { letter: "g", letterX: 916, title: "Määttä et al, 2020", titleX: 1067,
    xDomain: [-5, 12], xRange: [938.3, 1272.7], yDomain: [-1.5, 1.0], yRange: [760, 536.7],
    xTicks: [-5, -2.5, 2.5, 5, 7.5, 10], xLabeled: [-5, 5, 10], yTicks: [-1.5, -1, -0.5, 0.5, 1], yFmt: d3.format(".1f"),
    layers: [maattaSpread, maattaCore], dotR: 1.6, opacity: 0.72, fit: maattaFit,
    rParts: [["r=-0.1046;", false]], rX: 1042, rY: 549,
    yLabel: ["solubility score", "(Määttä et al., 2020)"], yLabelX: [904, 926], yLabelY: 652,
    xLabelX: 1117 }
];

scatterPanels.forEach(p => {
  const x = d3.scaleLinear().domain(p.xDomain).range(p.xRange);
  const y = d3.scaleLinear().domain(p.yDomain).range(p.yRange);
  const g = svg.append("g");

  const ax = g.append("g").attr("transform", `translate(0,${y(0)})`)
    .call(d3.axisBottom(x).tickValues(p.xTicks).tickFormat(v => (p.xLabeled.includes(v) ? d3.format("d")(v) : ""))
      .tickSizeOuter(0).tickSize(5).tickPadding(8));
  styleAxis(ax, "#111", 1.3, 12);
  const ay = g.append("g").attr("transform", `translate(${x(0)},0)`)
    .call(d3.axisLeft(y).tickValues(p.yTicks).tickFormat(p.yFmt).tickSizeOuter(0).tickSize(8).tickPadding(3));
  styleAxis(ay, "#111", 1.3, 12);

  p.layers.forEach(pts => {
    g.append("g").selectAll("circle").data(pts).join("circle")
      .attr("cx", d => x(d[0])).attr("cy", d => y(d[1])).attr("r", p.dotR)
      .attr("fill", "#8e4fa8").attr("fill-opacity", p.opacity);
  });

  const f = p.fit;
  g.append("line")
    .attr("x1", x(f.from)).attr("y1", y(f.slope * f.from + f.intercept))
    .attr("x2", x(f.to)).attr("y2", y(f.slope * f.to + f.intercept))
    .attr("stroke", "#111").attr("stroke-width", 1.8);

  const rt = svg.append("text").attr("x", p.rX).attr("y", p.rY)
    .attr("font-family", FONT).attr("font-size", 17).attr("fill", "#111");
  p.rParts.forEach(([t, it]) => rt.append("tspan").text(t).attr("font-style", it ? "italic" : "normal"));
  rt.append("tspan").text("****").attr("font-size", 11).attr("dy", -4);

  panelLetter(p.letter, p.letterX, 481);
  addText(p.title, p.titleX, 510, 22.5, { bold: true, fill: "#000" });
  p.yLabel.forEach((line, i) => addText(line, p.yLabelX[i], p.yLabelY, 18, { rotate: true }));
  addText("insol enrichment in 24m aged mice (logFC)", p.xLabelX, 795, 18);
});
</script>
</body>
</html>
